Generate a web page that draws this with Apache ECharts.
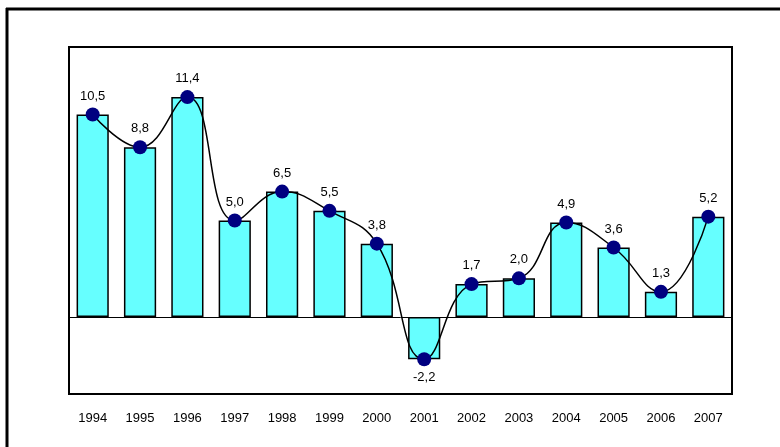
<!DOCTYPE html>
<html>
<head>
<meta charset="utf-8">
<script src="https://cdn.jsdelivr.net/npm/echarts@6/dist/echarts.min.js"></script>
<style>
html,body{margin:0;padding:0;background:#fff;}
#c{width:780px;height:447px;}
</style>
</head>
<body>
<div id="c"></div>
<script>
var years = ['1994','1995','1996','1997','1998','1999','2000','2001','2002','2003','2004','2005','2006','2007'];
var growth = [10.5, 8.8, 11.4, 5.0, 6.5, 5.5, 3.8, -2.2, 1.7, 2.0, 4.9, 3.6, 1.3, 5.2];

var FONT = '"Liberation Sans", Arial, sans-serif';
var chart = echarts.init(document.getElementById('c'), null, {renderer: 'canvas'});

var lineData = growth.map(function (v) {
  return {
    value: v,
    label: { position: v < 0 ? 'bottom' : 'top' }
  };
});

chart.setOption({
  animation: false,
  backgroundColor: '#ffffff',
  graphic: [
    { type: 'line', shape: { x1: 6, y1: 9, x2: 780, y2: 9 }, style: { stroke: '#000', lineWidth: 3 } },
    { type: 'line', shape: { x1: 7, y1: 8, x2: 7, y2: 447 }, style: { stroke: '#000', lineWidth: 3 } }
  ],
  grid: {
    left: 69, top: 47, right: 48, bottom: 53,
    show: true, borderColor: '#000', borderWidth: 2, backgroundColor: 'transparent'
  },
  xAxis: {
    type: 'category',
    data: years,
    axisLine: { show: false },
    axisTick: { show: false },
    axisLabel: { color: '#000', fontFamily: FONT, fontSize: 13, margin: 18 },
    position: 'bottom'
  },
  yAxis: {
    type: 'value',
    min: -4, max: 14, interval: 2,
    show: false,
    splitLine: { show: false }
  },
  series: [
    {
      type: 'bar',
      data: growth,
      barCategoryGap: '32%',
      itemStyle: { color: '#66FFFF', borderColor: '#000', borderWidth: 1.5 },
      markLine: {
        silent: true,
        symbol: 'none',
        label: { show: false },
        lineStyle: { color: '#000', width: 1, type: 'solid' },
        data: [{ yAxis: 0 }]
      },
      z: 2
    },
    {
      type: 'line',
      data: lineData,
      smooth: 0.45,
      symbol: 'circle',
      symbolSize: 14,
      lineStyle: { color: '#000', width: 1.5 },
      itemStyle: { color: '#000080', borderWidth: 0 },
      label: {
        show: true,
        color: '#000',
        fontFamily: FONT,
        fontSize: 13,
        distance: 5,
        formatter: function (p) { return p.value.toFixed(1).replace('.', ','); }
      },
      z: 3
    }
  ]
});
</script>
</body>
</html>
